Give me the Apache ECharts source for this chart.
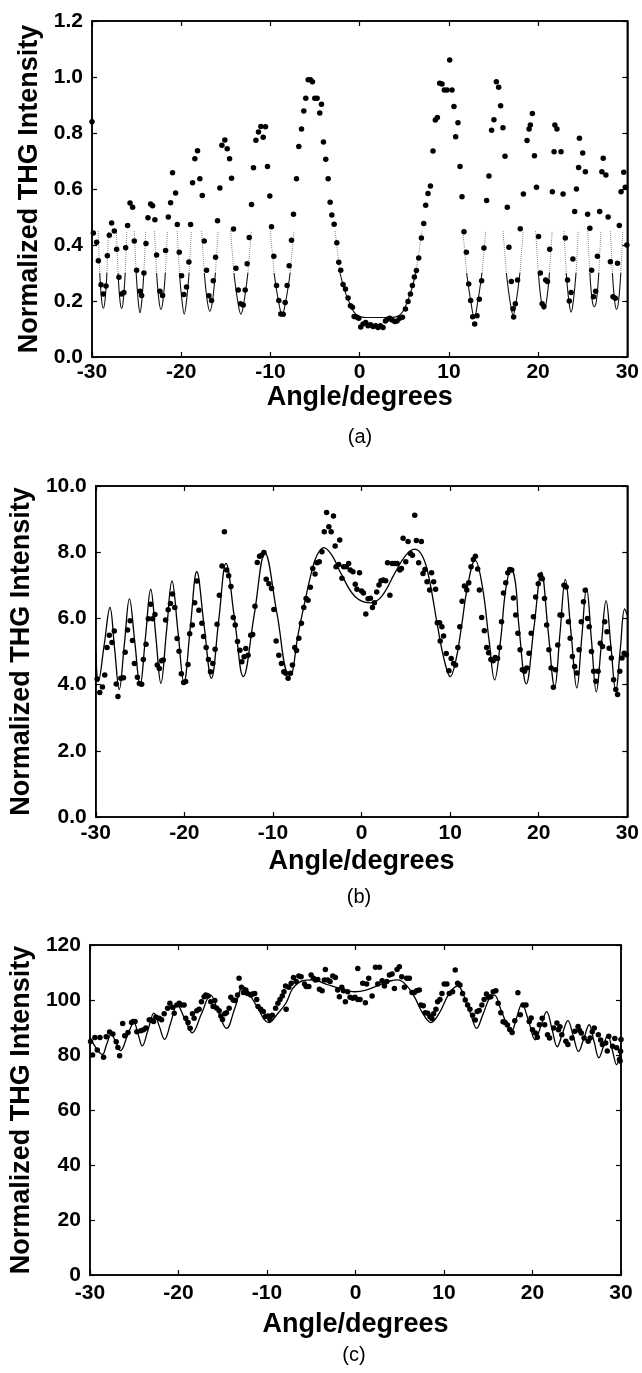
<!DOCTYPE html>
<html>
<head>
<meta charset="utf-8">
<script src="https://cdn.jsdelivr.net/npm/echarts/dist/echarts.min.js"></script>
<style>
html,body{margin:0;padding:0;background:#fff;}
#chart{width:642px;height:1373px;}
</style>
</head>
<body>
<div id="chart"></div>
<script>
// ---------------- DATA ----------------
const xTicks = [-30, -20, -10, 0, 10, 20, 30];

// Panel (a): measured points [angle, intensity]
const dataA = [
[-30,0.84],[-29.85,0.443],[-29.48,0.41],[-29.29,0.344],[-28.99,0.258],[-28.73,0.225],[-28.43,0.254],[-28.28,0.362],[-28.06,0.435],[-27.8,0.479],[-27.5,0.45],
[-27.24,0.385],[-26.98,0.285],[-26.68,0.225],[-26.42,0.23],[-26.23,0.39],[-26.01,0.47],[-25.74,0.55],[-25.45,0.535],
[-25.26,0.414],[-25.0,0.31],[-24.62,0.235],[-24.44,0.22],[-24.18,0.30],[-23.95,0.405],[-23.73,0.497],[-23.43,0.546],[-23.21,0.54],[-22.95,0.49],
[-22.76,0.364],[-22.39,0.235],[-22.09,0.22],[-21.75,0.38],[-21.45,0.5],[-21.19,0.551],[-20.97,0.658],[-20.63,0.586],[-20.44,0.473],
[-20.22,0.374],[-19.96,0.29],[-19.7,0.223],[-19.4,0.25],[-19.14,0.339],[-18.95,0.473],[-18.73,0.622],[-18.47,0.708],[-18.17,0.737],[-17.91,0.637],[-17.64,0.577],
[-17.42,0.414],[-17.16,0.31],[-16.9,0.219],[-16.6,0.202],[-16.41,0.272],[-16.15,0.356],[-15.93,0.487],[-15.67,0.604],[-15.44,0.756],[-15.11,0.775],[-14.85,0.744],[-14.58,0.708],[-14.36,0.638],
[-14.14,0.457],[-13.87,0.317],[-13.61,0.239],[-13.35,0.19],[-13.05,0.186],[-12.83,0.239],[-12.61,0.333],[-12.38,0.427],[-12.12,0.545],[-11.9,0.676],[-11.63,0.774],[-11.34,0.804],[-11.07,0.823],[-10.81,0.785],[-10.55,0.822],[-10.33,0.68],[-10.07,0.575],
[-9.88,0.465],[-9.62,0.36],[-9.32,0.255],[-9.06,0.202],[-8.84,0.154],[-8.57,0.153],[-8.35,0.195],[-8.13,0.255],[-7.9,0.326],[-7.64,0.417],[-7.42,0.51],
[-7.08,0.637],[-6.82,0.752],[-6.52,0.814],[-6.26,0.879],[-6.04,0.924],[-5.77,0.99],[-5.51,0.99],[-5.29,0.983],[-5.03,0.924],[-4.77,0.924],[-4.47,0.871],[-4.28,0.903],[-4.06,0.768],[-3.8,0.706],[-3.53,0.637],[-3.31,0.553],[-3.12,0.507],[-2.86,0.474],[-2.56,0.408],[-2.34,0.338],[-2.12,0.31],[-1.86,0.259],[-1.59,0.243],[-1.3,0.211],[-1.03,0.183],[-0.81,0.178],[-0.62,0.145],[-0.36,0.143],[-0.1,0.138],
[0.12,0.107],[0.38,0.118],[0.68,0.123],[0.94,0.112],[1.21,0.115],[1.5,0.109],[1.8,0.112],[2.06,0.105],[2.33,0.112],[2.62,0.105],[2.89,0.129],[3.11,0.135],[3.37,0.138],[3.63,0.132],[3.93,0.127],[4.19,0.129],[4.49,0.138],[4.79,0.142],[5.13,0.171],[5.42,0.198],[5.69,0.225],[5.91,0.255],[6.13,0.286],[6.36,0.309],[6.62,0.354],[6.92,0.425],[7.18,0.477],[7.4,0.542],[7.66,0.584],[7.93,0.611],[8.22,0.736],[8.48,0.846],[8.71,0.855],[8.97,0.978],[9.23,0.975],[9.49,0.954],[9.79,0.954],[10.09,1.061],[10.35,0.954],[10.57,0.895],[10.76,0.787],[11.02,0.837],[11.25,0.68],[11.47,0.572],[11.69,0.447],[11.96,0.374],[12.22,0.261],[12.44,0.202],[12.67,0.144],[12.89,0.118],[13.15,0.147],[13.41,0.206],[13.67,0.272],[13.93,0.389],[14.23,0.559],[14.49,0.646],[14.79,0.81],[15.05,0.847],[15.32,0.983],[15.58,0.963],[15.8,0.897],[16.06,0.819],[16.29,0.717],[16.55,0.535],[16.73,0.392],[17.0,0.27],[17.18,0.172],[17.26,0.143],
[17.45,0.19],[17.7,0.275],[18.0,0.458],[18.35,0.582],[18.76,0.773],[18.99,0.814],[19.13,0.829],[19.36,0.87],[19.59,0.719],[19.82,0.606],[20.05,0.43],[20.25,0.3],[20.45,0.19],[20.65,0.18],[20.85,0.275],[21.05,0.27],[21.3,0.385],[21.6,0.59],[21.79,0.733],[21.88,0.829],[22.11,0.814],[22.57,0.733],[22.8,0.582],[23.05,0.425],[23.3,0.275],[23.5,0.2],[23.7,0.23],[23.9,0.35],[24.1,0.52],[24.3,0.6],[24.54,0.677],[24.63,0.781],[25.0,0.729],[25.3,0.662],[25.55,0.51],[25.8,0.46],[26.0,0.31],[26.2,0.215],[26.45,0.235],[26.65,0.36],[26.9,0.52],[27.15,0.662],[27.3,0.71],[27.6,0.65],[27.85,0.5],[28.1,0.34],[28.4,0.215],[28.65,0.21],[28.9,0.335],[29.1,0.47],[29.3,0.59],[29.6,0.66],[29.77,0.606],[29.95,0.4]
];

// Panel (a): fitted curve, visible only around the minima (segments)
const fitASegments = [
[[-29.32,0.45],[-29.13,0.30],[-28.91,0.20],[-28.73,0.174],[-28.55,0.20],[-28.33,0.30],[-28.14,0.45]],
[[-27.27,0.45],[-27.08,0.30],[-26.86,0.20],[-26.68,0.173],[-26.50,0.20],[-26.28,0.30],[-26.09,0.45]],
[[-25.26,0.45],[-25.05,0.30],[-24.82,0.20],[-24.62,0.158],[-24.42,0.20],[-24.19,0.30],[-23.98,0.45]],
[[-23.0,0.45],[-22.76,0.30],[-22.49,0.20],[-22.27,0.17],[-22.05,0.20],[-21.78,0.30],[-21.54,0.45]],
[[-20.46,0.45],[-20.2,0.30],[-19.91,0.20],[-19.66,0.153],[-19.41,0.20],[-19.12,0.30],[-18.86,0.45]],
[[-17.72,0.45],[-17.41,0.30],[-17.08,0.20],[-16.79,0.163],[-16.5,0.20],[-16.17,0.30],[-15.86,0.45]],
[[-14.47,0.45],[-14.09,0.30],[-13.67,0.20],[-13.31,0.153],[-12.95,0.20],[-12.53,0.30],[-12.15,0.45]],
[[-10.02,0.45],[-9.59,0.30],[-9.10,0.20],[-8.69,0.151],[-8.28,0.20],[-7.79,0.30],[-7.36,0.45]],
[[-2.75,0.45],[-2.2,0.30],[-1.7,0.24],[-1.1,0.19],[-0.36,0.15],[0.8,0.141],[3.37,0.141],[4.5,0.15],[5.2,0.186],[5.8,0.24],[6.3,0.30],[7.0,0.45]],
[[11.57,0.45],[11.99,0.30],[12.45,0.20],[12.85,0.14],[13.25,0.20],[13.71,0.30],[14.13,0.45]],
[[16.07,0.45],[16.44,0.30],[16.85,0.20],[17.2,0.15],[17.55,0.20],[17.96,0.30],[18.33,0.45]],
[[19.72,0.45],[20.03,0.30],[20.36,0.20],[20.65,0.17],[20.94,0.20],[21.27,0.30],[21.58,0.45]],
[[22.89,0.45],[23.15,0.30],[23.45,0.20],[23.7,0.16],[23.95,0.20],[24.25,0.30],[24.51,0.45]],
[[25.56,0.45],[25.8,0.30],[26.07,0.20],[26.3,0.18],[26.53,0.20],[26.8,0.30],[27.04,0.45]],
[[28.1,0.45],[28.33,0.30],[28.58,0.20],[28.8,0.17],[29.02,0.20],[29.27,0.30],[29.5,0.45]]
];

// Panel (b): measured points
const dataB = [
[-29.85,4.17],[-29.55,3.76],[-29.25,3.93],[-28.99,4.29],[-28.73,5.12],[-28.47,5.49],[-28.17,5.27],[-27.91,5.62],[-27.69,4.02],[-27.5,3.64],[-27.17,4.19],[-26.87,4.21],[-26.68,4.98],[-26.42,5.65],[-26.12,5.93],[-25.86,5.33],[-25.64,4.64],[-25.3,4.22],[-25.08,4.03],[-24.82,4.01],[-24.63,4.76],[-24.33,5.22],[-24.07,5.99],[-23.81,6.43],[-23.58,5.99],[-23.32,6.12],[-23.06,4.59],[-22.83,4.49],[-22.57,4.72],[-22.38,4.74],[-22.12,5.95],[-21.83,6.26],[-21.57,6.45],[-21.34,6.74],[-21.08,6.33],[-20.82,5.39],[-20.6,5.01],[-20.34,4.33],[-20.08,4.06],[-19.85,4.09],[-19.59,4.61],[-19.4,5.54],[-19.1,5.8],[-18.84,6.47],[-18.58,7.13],[-18.36,6.25],[-18.02,5.85],[-17.83,5.45],[-17.54,5.12],[-17.28,4.76],[-17.05,4.39],[-16.79,4.64],[-16.53,5.07],[-16.31,5.82],[-16.05,6.7],[-15.75,7.58],[-15.48,8.62],[-15.22,7.46],[-15.0,7.29],[-14.74,6.96],[-14.48,6.03],[-14.26,5.8],[-14.0,5.3],[-13.73,5.04],[-13.51,4.69],[-13.25,4.84],[-13.07,5.09],[-12.81,4.89],[-12.51,5.49],[-12.29,5.51],[-12.03,6.37],[-11.77,7.69],[-11.51,7.88],[-11.28,7.91],[-11.02,7.99],[-10.76,7.18],[-10.46,7.05],[-10.16,6.9],[-9.9,6.27],[-9.64,5.32],[-9.34,4.89],[-9.04,4.64],[-8.78,4.39],[-8.55,4.34],[-8.29,4.19],[-8.03,4.34],[-7.8,4.59],[-7.54,5.12],
[-7.34,5.03],[-7.08,5.4],[-6.79,5.85],[-6.52,6.33],[-6.26,6.6],[-6.04,6.55],[-5.78,6.94],[-5.51,7.51],[-5.25,7.34],[-5.03,7.68],[-4.77,7.71],[-4.47,8.01],[-4.21,8.62],[-3.95,9.2],[-3.69,8.77],[-3.43,8.62],[-3.17,9.09],[-2.98,8.19],[-2.88,7.56],[-2.58,7.63],[-2.46,8.37],[-2.21,7.21],[-2.02,7.56],[-1.72,7.56],[-1.46,7.66],[-1.27,7.46],[-0.97,7.41],[-0.71,7.03],[-0.52,6.88],[-0.23,7.38],[0.0,6.83],[0.22,6.77],[0.48,6.13],[0.74,6.59],[1.0,6.61],[1.23,6.33],[1.45,6.47],[1.71,6.8],[1.97,7.01],[2.2,7.14],[2.46,7.16],[2.72,7.14],[2.94,7.68],[3.2,6.7],[3.46,7.66],[3.76,7.66],[4.02,7.66],[4.32,7.46],[4.5,7.51],[4.69,8.42],[4.99,7.71],[5.25,8.32],[5.51,7.96],[5.74,7.91],[6.0,9.12],[6.19,8.35],[6.45,7.68],[6.75,8.32],[6.94,7.36],[7.16,7.48],[7.39,7.11],[7.69,6.86],[7.91,7.38],[8.14,7.11],[8.36,6.88],[8.55,5.87],[8.81,5.87],[8.88,5.32],[9.07,5.75],[9.26,5.47],[9.56,4.94],[9.86,4.42],[10.12,4.79],[10.38,4.64],[10.61,4.59],[10.87,5.12],[11.09,5.75],[11.35,6.52],[11.61,6.98],[11.88,6.86],[12.1,7.08],[12.36,7.56],[12.62,7.78],[12.85,7.88],[13.11,7.49],[13.3,6.86],[13.56,6.03],[13.86,5.63],[14.12,5.12],[14.34,4.96],[14.6,4.76],[14.86,4.72],[15.09,4.82],[15.35,4.79],[15.57,5.12],[15.8,5.9],[16.02,6.77],[16.28,7.08],[16.51,7.38],[16.73,7.48],[16.95,7.46],[17.14,6.62],
[17.4,6.1],[17.65,5.55],[17.9,5.05],[18.15,4.45],[18.4,4.4],[18.65,4.5],[18.9,4.95],[19.15,5.55],[19.4,6.05],[19.65,6.65],[19.95,7.05],[20.15,7.3],[20.4,7.2],[20.65,6.6],[20.9,5.8],[21.15,5.05],[21.4,4.5],[21.65,3.92],[21.9,4.45],[22.15,5.2],[22.4,6.1],[22.6,6.1],[22.85,7.0],[23.1,6.95],[23.35,5.9],[23.55,5.4],[23.8,4.85],[24.05,4.55],[24.3,4.35],[24.55,5.05],[24.8,5.9],[25.05,6.5],[25.25,6.85],[25.5,6.0],[25.7,5.75],[25.95,5.0],[26.2,4.4],[26.45,4.1],[26.7,4.4],[26.95,5.25],[27.2,5.15],[27.45,5.9],[27.7,5.6],[27.95,5.1],[28.2,4.8],[28.45,4.15],[28.7,3.85],[28.9,3.7],[29.15,4.4],[29.4,4.8],[29.65,4.95],[29.9,4.9]
];

// Panel (b): fitted curve
const fitB = [
[-30,5.0],[-29.7,4.1],[-29.05,5.2],[-28.4,6.33],[-27.88,5.1],[-27.35,3.85],[-26.78,5.2],[-26.2,6.59],[-25.6,5.3],[-25.0,3.97],[-24.4,5.4],[-23.8,6.88],[-23.22,5.45],[-22.65,4.04],[-22.02,5.6],[-21.4,7.13],[-20.72,5.6],[-20.05,4.06],[-19.32,5.75],[-18.6,7.41],[-17.78,5.8],[-16.95,4.19],[-16.12,5.95],[-15.3,7.66],[-14.32,5.95],[-13.35,4.24],[-12.12,6.1],[-10.9,7.97],[-9.55,6.15],[-8.2,4.3],[-7.83,4.34],[-7.27,5.35],[-6.52,6.35],[-5.59,7.46],[-5.03,7.91],[-4.28,8.14],[-3.35,7.91],[-2.23,7.31],[-0.74,6.66],[0.94,6.47],[2.25,6.66],[3.74,7.36],[4.86,7.86],[5.98,8.09],[6.91,7.86],[7.66,7.16],[8.59,5.75],[9.34,4.74],[10.01,4.24],[10.65,4.74],[11.28,5.75],[11.96,6.96],[12.82,7.76],[13.64,6.96],[14.39,5.35],[15.02,4.14],[15.7,5.35],[16.26,6.85],[16.89,7.51],[17.38,7.06],[17.75,5.8],[18.6,4.02],[19.45,5.7],[20.3,7.4],[21.05,5.65],[21.8,3.92],[22.4,5.55],[23.0,7.18],[23.65,5.55],[24.3,3.9],[24.85,5.4],[25.4,6.92],[25.95,5.35],[26.5,3.78],[27.05,5.15],[27.6,6.54],[28.15,5.15],[28.7,3.8],[29.2,5.05],[29.7,6.29],[30,6.1]
];

// Panel (c): measured points
const dataC = [
[-29.93,84.9],[-29.7,80.0],[-29.44,86.4],[-29.17,81.8],[-28.87,86.4],[-28.46,79.2],[-28.16,86.6],[-27.78,88.4],[-27.41,87.6],[-27.03,84.8],[-26.84,82.7],[-26.65,79.7],[-26.3,91.5],[-26.07,87.0],[-25.7,88.2],[-25.3,91.8],[-25.1,92.2],[-24.9,92.2],[-24.7,88.5],[-24.24,88.8],[-23.95,89.2],[-23.68,89.8],[-23.3,92.8],[-23.04,92.6],[-22.81,92.2],[-22.55,93.8],[-22.18,93.4],[-21.91,92.8],[-21.61,95.0],[-21.23,97.0],[-20.97,98.8],[-20.67,97.4],[-20.48,95.2],[-20.18,98.2],[-19.92,98.8],[-19.66,98.2],[-19.36,98.2],[-19.17,93.4],[-18.91,91.8],[-18.68,89.7],[-18.42,95.0],[-18.23,93.4],[-17.93,96.1],[-17.67,96.6],[-17.4,99.4],[-17.1,101.2],[-16.91,101.8],[-16.65,101.5],[-16.35,99.4],[-16.08,97.6],[-15.89,99.8],[-15.67,97.0],[-15.4,96.1],[-15.21,94.2],[-15.02,92.9],[-14.76,95.0],[-14.57,95.4],[-14.27,97.0],[-14.08,101.0],[-13.82,100.0],[-13.59,99.8],[-13.33,101.8],[-13.15,107.9],[-12.88,104.6],[-12.66,102.7],[-12.39,103.6],[-12.21,102.4],[-11.83,101.8],[-11.64,102.2],[-11.38,102.4],[-11.16,100.2],[-11.01,97.6],[-10.71,96.6],[-10.41,95.8],[-10.15,94.0],[-9.88,94.2],[-9.66,92.9],[-9.4,94.5],[-9.02,97.0],[-8.76,98.8],[-8.53,100.2],[-8.27,101.5],[-8.08,103.0],[-7.9,105.1],
[-7.83,96.6],[-7.53,104.6],[-7.26,106.1],[-7.0,108.2],[-6.7,106.7],[-6.4,108.7],[-6.14,108.5],[-5.76,105.8],[-5.57,104.9],[-5.27,104.9],[-5.01,109.1],[-4.75,107.9],[-4.52,107.3],[-4.26,107.5],[-4.07,103.9],[-3.77,103.4],[-3.51,107.3],[-3.4,111.1],[-3.14,107.3],[-2.87,106.7],[-2.57,108.7],[-2.27,108.2],[-2.01,103.6],[-1.82,101.2],[-1.55,104.6],[-1.36,103.4],[-1.14,99.4],[-0.88,103.0],[-0.61,101.0],[-0.31,100.6],[-0.05,101.0],[0.26,111.5],[0.26,100.2],[0.52,100.2],[0.82,106.1],[1.12,99.0],[1.27,105.8],[1.5,107.9],[1.88,101.5],[2.26,111.9],[2.52,105.8],[2.71,111.9],[3.01,107.0],[3.27,105.1],[3.54,106.7],[3.84,109.1],[4.14,109.5],[4.4,104.2],[4.7,111.1],[4.96,112.1],[5.23,108.5],[5.53,104.6],[5.79,107.9],[6.09,107.9],[6.39,102.7],[6.65,102.7],[6.91,103.4],[7.21,103.6],[7.4,98.2],[7.66,97.9],[7.89,95.4],[8.16,95.2],[8.42,93.9],[8.64,93.3],[8.83,95.0],[9.09,96.6],[9.28,99.4],[9.54,100.2],[9.77,102.4],[10.03,105.8],[10.33,105.8],[10.6,102.4],[10.97,103.0],[11.27,110.9],[11.54,106.1],[11.8,105.5],[12.1,102.4],[12.4,100.0],[12.67,98.2],[12.93,96.6],[13.23,94.5],[13.53,92.7],[13.75,95.8],[13.98,96.2],[14.28,98.2],[14.54,100.2],[14.8,102.2],[15.03,101.0],[15.29,101.2],[15.56,103.0],[15.86,103.4],[16.12,98.8],[16.42,95.4],[16.68,92.1],[16.91,91.8],[17.17,90.9],[17.43,89.3],
[17.7,88.2],[18.0,92.5],[18.35,102.6],[18.62,94.6],[18.94,98.2],[19.27,98.2],[19.63,92.2],[19.85,93.5],[20.0,89.2],[20.32,88.0],[20.55,86.5],[20.78,91.0],[21.1,93.4],[21.38,91.0],[21.7,87.4],[21.93,86.2],[22.39,89.8],[22.76,91.6],[22.94,89.2],[23.1,90.3],[23.31,87.4],[23.77,85.0],[24.0,83.8],[24.46,86.2],[24.78,88.6],[25.15,90.4],[25.3,89.0],[25.51,88.0],[25.83,86.2],[26.29,85.0],[26.52,86.2],[26.75,88.5],[26.98,89.8],[27.44,87.4],[27.7,85.5],[27.9,83.8],[28.27,84.4],[28.45,81.5],[28.62,86.8],[29.05,83.2],[29.3,86.0],[29.51,82.6],[29.83,78.4],[29.9,77.8],[29.95,81.4],[30.0,85.6]
];

// Panel (c): fitted curve
const fitC = [
[-30,86.5],[-29.3,82.5],[-28.6,80.2],[-28.1,84.0],[-27.6,87.5],[-27.05,84.5],[-26.54,81.6],[-25.8,86.7],[-25.03,91.8],[-24.55,87.5],[-24.09,83.3],[-23.43,89.2],[-22.77,95.2],[-22.17,90.5],[-21.57,85.7],[-20.85,92.0],[-20.14,98.2],[-19.3,93.2],[-18.45,88.1],[-17.4,95.0],[-16.38,101.8],[-15.5,95.8],[-14.57,89.7],[-13.6,97.3],[-12.69,104.8],[-11.25,98.3],[-9.79,91.8],[-8.8,95.0],[-7.83,99.0],[-7.08,104.2],[-5.96,107.0],[-4.83,107.3],[-3.33,105.8],[-1.44,103.9],[-0.12,103.0],[1.19,103.6],[2.7,105.5],[4.01,107.0],[4.77,107.3],[5.71,105.5],[6.65,101.2],[7.59,95.2],[8.53,91.8],[9.47,95.2],[10.6,102.4],[11.55,105.1],[12.3,101.2],[13.05,94.5],[13.69,89.7],[14.37,94.5],[15.31,101.5],[15.69,101.8],[16.44,96.4],[17.31,89.5],[17.6,88.5],[18.2,93.5],[18.8,98.5],[19.55,92.5],[20.3,85.5],[20.95,90.5],[21.6,95.8],[22.2,89.5],[22.8,83.0],[23.4,88.0],[24.0,92.5],[24.6,87.0],[25.2,81.3],[25.8,86.0],[26.4,91.0],[26.95,85.0],[27.5,79.0],[28.0,83.0],[28.5,87.3],[29.0,82.0],[29.5,76.5],[30,83.7]
];

// ---------------- CHART ----------------
const FONT = "'Liberation Sans', Arial, Helvetica, sans-serif";
const panels = [
  {left:92, top:21, width:536, height:336, ymax:1.2, yint:0.2, dec:1, xGap:27, xMargin:5, yGap:40, label:'(a)', lx:360, ly:437},
  {left:91, top:486, width:537, height:331, ymax:10, yint:2, dec:1, xGap:31, xMargin:6, yGap:43, label:'(b)', lx:359, ly:897},
  {left:88, top:945, width:533, height:330, ymax:120, yint:20, dec:0, xGap:36, xMargin:8, yGap:44, label:'(c)', lx:354, ly:1355}
];

const grids = [], xAxes = [], yAxes = [], graphics = [];
const tickStyle = {inside:true, length:5, lineStyle:{color:'#000', width:1.2}};
const lineStyle = {show:true, onZero:false, lineStyle:{color:'#000', width:1.5}};
panels.forEach((p, i) => {
  grids.push({left:p.left, top:p.top, width:p.width, height:p.height, show:true, borderColor:'#000', borderWidth:1.5, backgroundColor:'transparent'});
  xAxes.push({gridIndex:i, type:'value', min:xTicks[0], max:xTicks[xTicks.length-1], interval:10, position:'bottom',
    axisLine:lineStyle, axisTick:tickStyle, splitLine:{show:false},
    axisLabel:{color:'#000', fontSize:21, fontWeight:'bold', fontFamily:FONT, margin:p.xMargin},
    name:'Angle/degrees', nameLocation:'middle', nameGap:p.xGap,
    nameTextStyle:{color:'#000', fontSize:27, fontWeight:'bold', fontFamily:FONT}});
  xAxes.push({gridIndex:i, type:'value', min:xTicks[0], max:xTicks[xTicks.length-1], interval:10, position:'top',
    axisLine:lineStyle, axisTick:tickStyle, axisLabel:{show:false}, splitLine:{show:false}});
  yAxes.push({gridIndex:i, type:'value', min:0, max:p.ymax, interval:p.yint, position:'left',
    axisLine:lineStyle, axisTick:tickStyle, splitLine:{show:false},
    axisLabel:{color:'#000', fontSize:21, fontWeight:'bold', fontFamily:FONT, margin:9,
      formatter: v => Number(v).toFixed(p.dec)},
    name:'Normalized THG Intensity', nameLocation:'middle', nameGap:p.yGap,
    nameTextStyle:{color:'#000', fontSize:27, fontWeight:'bold', fontFamily:FONT}});
  yAxes.push({gridIndex:i, type:'value', min:0, max:p.ymax, interval:p.yint, position:'right',
    axisLine:lineStyle, axisTick:tickStyle, axisLabel:{show:false}, splitLine:{show:false}});
  graphics.push({type:'text', x:p.lx, y:p.ly,
    style:{text:p.label, fill:'#000', font:'20px ' + FONT, textAlign:'center', textVerticalAlign:'middle'}});
});

// split each dip of the (a) fit into a dark core and faint upper tails
const CORE_MAX = 0.31;
const fitACore = [], fitATail = [];
function pushGap(arr) { if (arr.length) arr.push([arr[arr.length-1][0] + 0.01, null]); }
fitASegments.forEach(seg => {
  const idx = seg.map((p, j) => p[1] <= CORE_MAX ? j : -1).filter(j => j >= 0);
  const a = idx[0], b = idx[idx.length-1];
  pushGap(fitACore); seg.slice(a, b + 1).forEach(p => fitACore.push(p));
  pushGap(fitATail); seg.slice(0, a + 1).forEach(p => fitATail.push(p));
  pushGap(fitATail); seg.slice(b).forEach(p => fitATail.push(p));
});

const series = [
  {name:'fitATail', type:'line', xAxisIndex:0, yAxisIndex:0, data:fitATail, smooth:false, showSymbol:false, connectNulls:false,
    lineStyle:{width:1, color:'#8a8a8a', type:'dotted'}, z:2},
  {name:'fitACore', type:'line', xAxisIndex:0, yAxisIndex:0, data:fitACore, smooth:0.4, showSymbol:false, connectNulls:false,
    lineStyle:{width:1.1, color:'#111'}, z:2},
  {name:'dataA', type:'scatter', xAxisIndex:0, yAxisIndex:0, data:dataA, symbolSize:5.5, itemStyle:{color:'#000', opacity:1}, z:3},
  {name:'fitB', type:'line', xAxisIndex:2, yAxisIndex:2, data:fitB, smooth:0.4, showSymbol:false,
    lineStyle:{width:1.3, color:'#000'}, z:2},
  {name:'dataB', type:'scatter', xAxisIndex:2, yAxisIndex:2, data:dataB, symbolSize:5.5, itemStyle:{color:'#000', opacity:1}, z:3},
  {name:'fitC', type:'line', xAxisIndex:4, yAxisIndex:4, data:fitC, smooth:0.4, showSymbol:false,
    lineStyle:{width:1.3, color:'#000'}, z:2},
  {name:'dataC', type:'scatter', xAxisIndex:4, yAxisIndex:4, data:dataC, symbolSize:5.5, itemStyle:{color:'#000', opacity:1}, z:3}
];

const chart = echarts.init(document.getElementById('chart'), null, {renderer:'canvas'});
chart.setOption({
  animation:false,
  backgroundColor:'#fff',
  grid:grids, xAxis:xAxes, yAxis:yAxes, series:series, graphic:graphics
});
</script>
</body>
</html>
